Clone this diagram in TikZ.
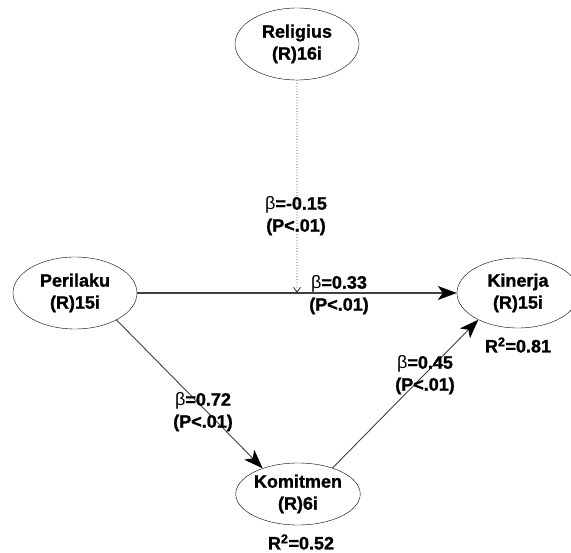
\documentclass[tikz,border=0pt]{standalone}
\usepackage{fontspec}
\setmainfont{Liberation Sans}[BoldFeatures={FakeBold=1.2}]
\usetikzlibrary{shapes.geometric,arrows.meta,calc}
\begin{document}
\begin{tikzpicture}[x=1pt,y=-1pt,font=\fontsize{18}{22}\selectfont\bfseries,
	latent/.style={draw,ellipse,inner sep=0pt,align=center,minimum width=124pt,minimum height=72pt},
	effect/.style={draw=black!75,line width=0.9pt,-{Stealth[length=19pt,width=14pt,inset=5pt,color=black]}},
	lbl/.style={align=center,inner sep=0pt}]
	\useasboundingbox (0,0) rectangle (571,553);

	% constructs
	\node[latent] (religius) at (297,44) {Religius\\(R)16i};
	\node[latent] (perilaku) at (75,293) {Perilaku\\(R)15i};
	\node[latent,minimum width=122pt,minimum height=70pt] (kinerja) at (518,293) {Kinerja\\(R)15i};
	\node[latent,minimum width=122pt,minimum height=62pt] (komitmen) at (298,494) {Komitmen\\(R)6i};
	\coordinate (moder) at ($(perilaku.east)!0.5!(kinerja.west)$);

	% paths
	\draw[effect,line width=1.2pt] (perilaku.east) -- (kinerja.west);
	\draw[effect] (perilaku.-33) -- (komitmen.144);
	\draw[effect] (komitmen.37) -- (kinerja.214);
	\draw[black!80,line width=0.8pt,dash pattern=on 0.8pt off 2pt,-{Straight Barb[length=5pt,width=7pt]}] (religius.south) -- (moder);

	% coefficients
	\node[lbl] (b1) at (296,216) {{\mdseries β}=-0.15\\(P<.01)};
	\node[lbl] (b2) at (339,295) {{\mdseries β}=0.33\\(P<.01)};
	\node[lbl] (b3) at (203,412) {{\mdseries β}=0.72\\(P<.01)};
	\node[lbl] (b4) at (425,375) {{\mdseries β}=0.45\\(P<.01)};
	\node[lbl] (r1) at (518,345) {R\textsuperscript{2}=0.81};
	\node[lbl] (r2) at (301,542) {R\textsuperscript{2}=0.52};
\end{tikzpicture}
\end{document}
